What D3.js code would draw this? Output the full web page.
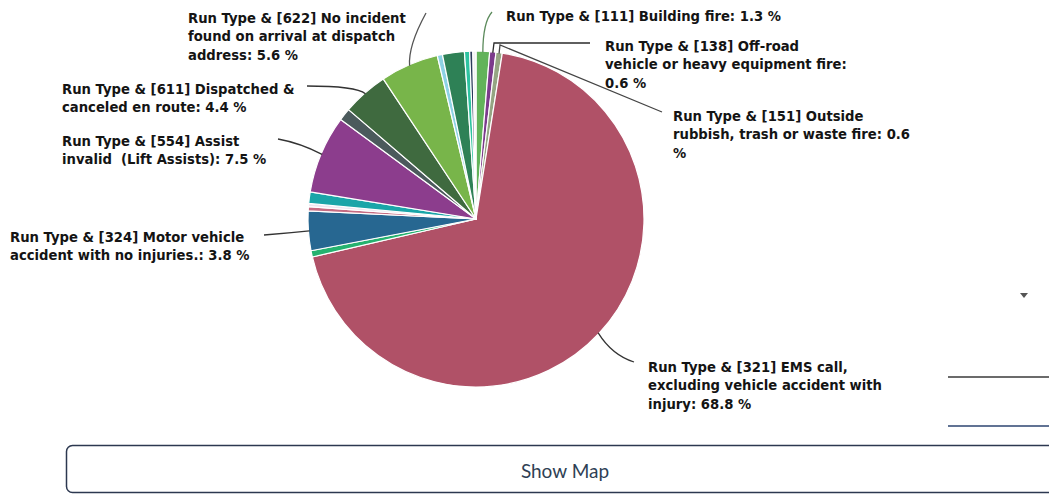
<!DOCTYPE html>
<html>
<head>
<meta charset="utf-8">
<script src="https://cdn.jsdelivr.net/npm/d3@7"></script>
<style>
  html, body { margin: 0; padding: 0; background: #ffffff; }
  svg { display: block; }
</style>
</head>
<body>
<svg id="chart" width="1049" height="497"></svg>
<script>
// ---------------- DATA ----------------
const categories = [
  "[111] Building fire",
  "[138] Off-road vehicle or heavy equipment fire",
  "[151] Outside rubbish, trash or waste fire",
  "[321] EMS call, excluding vehicle accident with injury",
  "[322] Motor vehicle accident with injuries",
  "[324] Motor vehicle accident with no injuries.",
  "[411] Gasoline or other flammable liquid spill",
  "[412] Gas leak",
  "[445] Arcing, shorted electrical equipment",
  "[554] Assist invalid  (Lift Assists)",
  "[600] Good intent call, other",
  "[611] Dispatched & canceled en route",
  "[622] No incident found on arrival at dispatch address",
  "[651] Smoke scare, odor of smoke",
  "[700] False alarm or false call, other",
  "[733] Smoke detector activation due to malfunction",
  "[743] Smoke detector activation, no fire - unintentional",
  "[745] Alarm system activation, no fire - unintentional"
];
const values = [1.3, 0.6, 0.6, 68.8, 0.6, 3.8, 0.4, 0.3, 1.1, 7.5, 1.2, 4.4, 5.6, 0.5, 2.1, 0.5, 0.3, 0.3];
const sliceColors = ["#62b35a", "#7c3b8c", "#95a583", "#b05167", "#25b26f", "#276791", "#c46b82", "#ece6f0", "#1aa5a8",
                     "#8c3d8d", "#4b5a5c", "#3f6a3f", "#78b54a", "#8dd2e4", "#2e8156", "#2ec3a0", "#2b3b5b", "#f2f2f2"];
const labeledIndex = [0, 1, 2, 3, 5, 9, 11, 12];
const labelLines = [
  ["Run Type & [111] Building fire: 1.3 %"],
  ["Run Type & [138] Off-road", "vehicle or heavy equipment fire:", "0.6 %"],
  ["Run Type & [151] Outside", "rubbish, trash or waste fire: 0.6", "%"],
  ["Run Type & [321] EMS call,", "excluding vehicle accident with", "injury: 68.8 %"],
  ["Run Type & [324] Motor vehicle", "accident with no injuries.: 3.8 %"],
  ["Run Type & [554] Assist", "invalid  (Lift Assists): 7.5 %"],
  ["Run Type & [611] Dispatched &", "canceled en route: 4.4 %"],
  ["Run Type & [622] No incident", "found on arrival at dispatch", "address: 5.6 %"]
];
const buttonText = "Show Map";

// ---------------- LAYOUT ----------------
const cx = 476, cy = 219, R = 168;
// label text top-left (first line centre) and connector geometry
const labelLayout = [
  { x: 506, y: 16, pts: [[483, 22], [492, 12]], curve: true, color: "#5b8a5b" },
  { x: 605, y: 46, pts: [[494, 43], [590, 43]], curve: false, color: "#2b2b2b" },
  { x: 673, y: 116, pts: [[500, 45], [662, 112]], curve: false, color: "#444" },
  { x: 648, y: 367, pts: [[612, 355], [634, 362]], curve: true, color: "#333" },
  { x: 10, y: 237, pts: [[288, 233], [264, 235]], curve: true, color: "#333" },
  { x: 62, y: 141, pts: [[300, 143], [278, 139]], curve: true, color: "#333" },
  { x: 62, y: 89, pts: [[356, 86], [307, 86]], curve: true, color: "#333" },
  { x: 188, y: 18, pts: [[408, 46], [426, 13]], curve: true, color: "#555" }
];
const lineH = 18.6;

const svg = d3.select("#chart");

// ---------------- PIE ----------------
const pie = d3.pie().sort(null).value(d => d)
  .startAngle(0).endAngle(2 * Math.PI);
const arcs = pie(values);
const arc = d3.arc().innerRadius(0).outerRadius(R);

const g = svg.append("g").attr("transform", `translate(${cx},${cy})`);
g.selectAll("path.slice")
  .data(arcs)
  .join("path")
  .attr("class", "slice")
  .attr("d", arc)
  .attr("fill", (d, i) => sliceColors[i])
  .attr("stroke", "#ffffff")
  .attr("stroke-width", 1.2)
  .attr("stroke-linejoin", "round");

// ---------------- CONNECTORS & LABELS ----------------
labeledIndex.forEach((si, k) => {
  const a = arcs[si];
  const mid = (a.startAngle + a.endAngle) / 2;
  const ex = cx + (R - 1) * Math.sin(mid);
  const ey = cy - (R - 1) * Math.cos(mid);
  const L = labelLayout[k];
  const p = d3.path();
  p.moveTo(ex, ey);
  if (L.curve) {
    p.quadraticCurveTo(L.pts[0][0], L.pts[0][1], L.pts[1][0], L.pts[1][1]);
  } else {
    L.pts.forEach(q => p.lineTo(q[0], q[1]));
  }
  svg.append("path")
    .attr("d", p.toString())
    .attr("fill", "none")
    .attr("stroke", L.color)
    .attr("stroke-width", 1.3);

  const t = svg.append("text")
    .attr("x", L.x)
    .attr("y", L.y)
    .attr("font-family", "'DejaVu Sans', Verdana, sans-serif")
    .attr("font-weight", "bold")
    .attr("font-size", "13.2px")
    .attr("fill", "#141414");
  labelLines[k].forEach((s, j) => {
    t.append("tspan")
      .attr("x", L.x)
      .attr("y", L.y + j * lineH)
      .attr("dy", "0.35em")
      .style("white-space", "pre")
      .text(s);
  });
});

// ---------------- RIGHT-SIDE FRAGMENTS ----------------
svg.append("path")
  .attr("d", d3.line()([[1020, 293], [1028, 293], [1024, 298]]) + "Z")
  .attr("fill", "#555");
svg.append("line").attr("x1", 948).attr("x2", 1049).attr("y1", 377).attr("y2", 377)
  .attr("stroke", "#3a3a3a").attr("stroke-width", 1.5);
svg.append("line").attr("x1", 948).attr("x2", 1049).attr("y1", 426).attr("y2", 426)
  .attr("stroke", "#2d4470").attr("stroke-width", 1.5);

// ---------------- BUTTON ----------------
svg.append("rect")
  .attr("x", 66.5).attr("y", 445.5)
  .attr("width", 1004).attr("height", 47)
  .attr("rx", 6)
  .attr("fill", "#ffffff")
  .attr("stroke", "#2c3850")
  .attr("stroke-width", 1.5);
svg.append("text")
  .attr("x", 565).attr("y", 471)
  .attr("dy", "0.35em")
  .attr("text-anchor", "middle")
  .attr("font-family", "Lato, 'Open Sans', sans-serif")
  .attr("font-size", "19px")
  .attr("fill", "#2f3f55")
  .text(buttonText);
</script>
</body>
</html>
